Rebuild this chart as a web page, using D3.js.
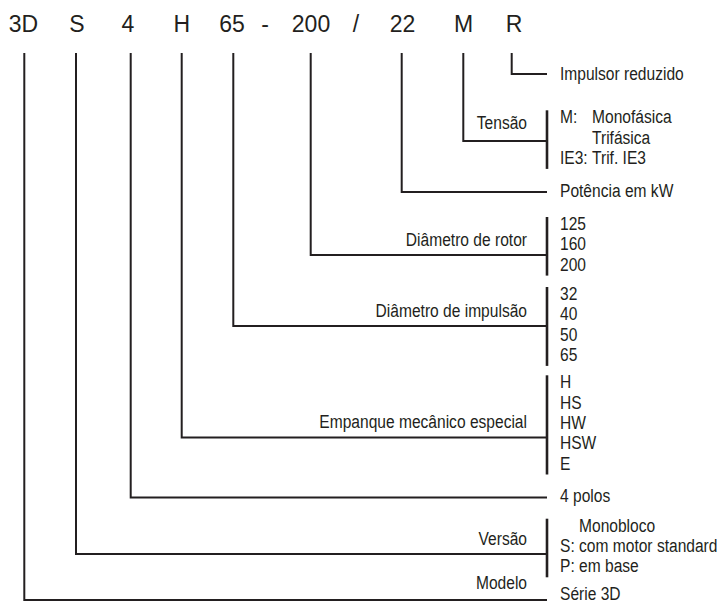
<!DOCTYPE html>
<html><head><meta charset="utf-8">
<script src="https://cdn.jsdelivr.net/npm/d3@7"></script>
<style>html,body{margin:0;padding:0;background:#fff;} svg{display:block;}</style>
</head><body><svg id="c" width="720" height="604"></svg>
<script>
// ---------- DATA ----------
const codes = ["3D","S","4","H","65","-","200","/","22","M","R"];
const branchCodes = ["R","M","22","200","65","H","4","S","3D"];
const branchTitles = ["","Tensão","","Diâmetro de rotor","Diâmetro de impulsão","Empanque mecânico especial","","Versão","Modelo"];
const branchValues = [
  [["","Impulsor reduzido"]],
  [["M:","Monofásica"],["","Trifásica"],["IE3:","Trif. IE3"]],
  [["","Potência em kW"]],
  [["","125"],["","160"],["","200"]],
  [["","32"],["","40"],["","50"],["","65"]],
  [["","H"],["","HS"],["","HW"],["","HSW"],["","E"]],
  [["","4 polos"]],
  [["","Monobloco"],["S:","com motor standard"],["P:","em base"]],
  [["","Série 3D"]]
];

// ---------- LAYOUT ----------
const codeTextX = [23.5,77,128,181.7,232,265,311,356,402.5,463.5,514];
const stemX = {"3D":24.3,"S":76,"4":130.7,"H":181.7,"65":233.3,"200":310.7,"22":401.7,"M":463.3,"R":511.7};
const rowY    = [74,141,192,255,326,437.5,497.5,554,600];
const titleY  = [0,129,0,246,316.7,428.3,0,545,589];
const valuesY0 = [80,123.3,197,230,300,388.3,501.5,531.7,599.5];
const codeBaseline = 32, stemTop = 53, branchEnd = 547, titleRight = 527, valuesX = 560, lineStep = 20.3;
const ink = "#231f20";

function hasFont(name){
  const c = document.createElement('canvas').getContext('2d');
  const s = "Impulsor reduzido mWi 123";
  c.font = "40px monospace"; const a = c.measureText(s).width;
  c.font = `40px "${name}", monospace`; const b = c.measureText(s).width;
  return Math.abs(a-b) > 0.5;
}
const narrow = hasFont("Liberation Sans Narrow");
const smallFamily = narrow ? '"Liberation Sans Narrow", "Liberation Sans", sans-serif' : '"Liberation Sans", Arial, sans-serif';
const sx = narrow ? 1 : 0.82;
const smallSize = 19;

const svg = d3.select("#c");

// top code letters
svg.append("g").selectAll("text").data(codes).join("text")
  .attr("x", (d,i)=>codeTextX[i]).attr("y", codeBaseline)
  .attr("text-anchor","middle")
  .style("font-family",'"Liberation Sans", Arial, sans-serif')
  .style("font-size","23px").attr("fill", ink)
  .text(d=>d);

const branches = branchCodes.map((c,i)=>({code:c, title:branchTitles[i], values:branchValues[i], y:rowY[i], ty:titleY[i], vy:valuesY0[i]}));

// stems
svg.append("g").selectAll("path").data(branches).join("path")
  .attr("d", d=>`M${stemX[d.code]},${stemTop}V${d.y}H${branchEnd}`)
  .attr("fill","none").attr("stroke", ink).attr("stroke-width", 2)
  .attr("stroke-linejoin","miter");

// brackets
svg.append("g").selectAll("line").data(branches.filter(d=>d.values.length>1)).join("line")
  .attr("x1", branchEnd).attr("x2", branchEnd)
  .attr("y1", d=>d.vy-13).attr("y2", d=>d.vy + (d.values.length-1)*lineStep + 5)
  .attr("stroke", ink).attr("stroke-width", 2.6);

function smallText(parent, x, y, anchor){
  return parent.append("text")
    .attr("transform", `translate(${x},${y}) scale(${sx},1)`)
    .attr("text-anchor", anchor)
    .style("font-family", smallFamily).style("font-size", smallSize+"px")
    .attr("fill", ink);
}

const gt = svg.append("g");
// titles
branches.filter(d=>d.title).forEach(d=>{
  smallText(gt, titleRight, d.ty, "end").text(d.title);
});

// measure helper
function measure(str){
  const t = smallText(gt, 0, -100, "start").text(str);
  const w = t.node().getComputedTextLength(); t.remove(); return w;
}
const spaceW = measure("a a") - measure("aa");

// values
branches.forEach(d=>{
  const codesW = d.values.map(v=>v[0] ? measure(v[0]) : 0);
  const maxW = d3.max(codesW);
  const tab = maxW > 0 ? maxW + spaceW : 0;
  d.values.forEach((v,j)=>{
    const t = smallText(gt, valuesX, d.vy + j*lineStep, "start");
    if (v[0]) t.append("tspan").attr("x",0).text(v[0]);
    t.append("tspan").attr("x", tab).text(v[1]);
  });
});
</script>
</body></html>
